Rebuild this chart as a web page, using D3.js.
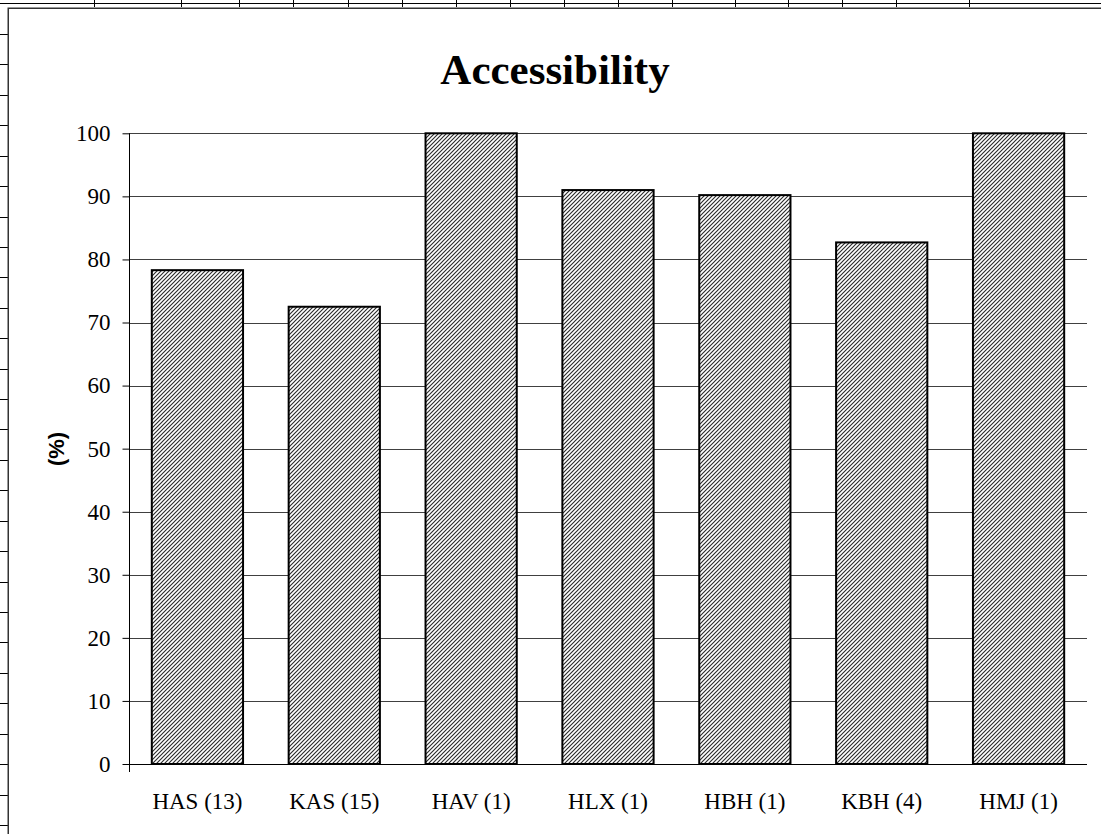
<!DOCTYPE html>
<html>
<head>
<meta charset="utf-8">
<script src="https://cdn.jsdelivr.net/npm/d3@7"></script>
<style>
  html, body { margin: 0; padding: 0; background: #fff; }
  svg { display: block; }
</style>
</head>
<body>
<script>
// ---- data ----
const categories = ["HAS (13)", "KAS (15)", "HAV (1)", "HLX (1)", "HBH (1)", "KBH (4)", "HMJ (1)"];
const values = [78.3, 72.5, 100, 91.0, 90.2, 82.7, 100];
const yTicks = [0, 10, 20, 30, 40, 50, 60, 70, 80, 90, 100];
const titleText = "Accessibility";
const yAxisTitle = "(%)";

// ---- layout ----
const W = 1101, H = 834;
const plot = { left: 129, right: 1087, top: 133.3, bottom: 764 };
const sheetCols = [94, 181, 239, 293, 348, 402, 456, 510, 564, 618, 672, 735, 788, 842, 896, 969];

const svg = d3.select("body").append("svg").attr("width", W).attr("height", H);
svg.append("rect").attr("width", W).attr("height", H).attr("fill", "#fff");

const defs = svg.append("defs");
const pat = defs.append("pattern").attr("id", "hatch")
  .attr("patternUnits", "userSpaceOnUse").attr("width", 4).attr("height", 4);
pat.append("rect").attr("width", 4).attr("height", 4).attr("fill", "#fff");
pat.append("path").attr("d", "M-1,1 L1,-1 M0,4 L4,0 M3,5 L5,3")
  .attr("stroke", "#2a2a2a").attr("stroke-width", 1.15);

// spreadsheet background lines
const sheet = svg.append("g");
sheet.append("line").attr("x1", 0).attr("x2", W).attr("y1", 3.5).attr("y2", 3.5)
  .attr("stroke", "#000").attr("stroke-width", 1);
sheet.selectAll("line.col").data(sheetCols).join("line").attr("class", "col")
  .attr("x1", d => d + 0.5).attr("x2", d => d + 0.5).attr("y1", 0).attr("y2", 7)
  .attr("stroke", "#000").attr("stroke-width", 1);
const rows = d3.range(27).map(i => 34 + i * 30.42);
sheet.selectAll("line.row").data(rows).join("line").attr("class", "row")
  .attr("x1", 0).attr("x2", 8).attr("y1", d => Math.round(d) + 0.5).attr("y2", d => Math.round(d) + 0.5)
  .attr("stroke", "#000").attr("stroke-width", 1);

// chart border
svg.append("rect").attr("x", 8.25).attr("y", 8.25).attr("width", W + 20).attr("height", H + 20)
  .attr("fill", "#fff").attr("stroke", "#333").attr("stroke-width", 1.5);

// scales
const x = d3.scaleBand().domain(categories).range([plot.left, plot.right])
  .paddingInner(1 / 3).paddingOuter(1 / 6);
const y = d3.scaleLinear().domain([0, 100]).range([plot.bottom, plot.top]);

// gridlines
svg.append("g").selectAll("line").data(yTicks.filter(d => d > 0)).join("line")
  .attr("x1", plot.left).attr("x2", plot.right)
  .attr("y1", d => Math.round(y(d)) + 0.5).attr("y2", d => Math.round(y(d)) + 0.5)
  .attr("stroke", "#404040").attr("stroke-width", 1);

// bars
svg.append("g").selectAll("rect").data(values).join("rect")
  .attr("x", (d, i) => x(categories[i]))
  .attr("width", x.bandwidth())
  .attr("y", d => y(d))
  .attr("height", d => y(0) - y(d))
  .attr("fill", "url(#hatch)")
  .attr("stroke", "#000").attr("stroke-width", 2);

// y axis
const yAxis = d3.axisLeft(y).tickValues(yTicks).tickSize(7).tickPadding(12);
const gy = svg.append("g").attr("transform", `translate(${plot.left + 0.5},0)`).call(yAxis);
gy.select(".domain").remove();
gy.selectAll(".tick line").attr("stroke", "#000");
gy.selectAll(".tick text").attr("font-family", "'Liberation Serif', 'Times New Roman', serif")
  .attr("font-size", 23).attr("fill", "#000");
svg.append("line").attr("x1", plot.left + 0.5).attr("x2", plot.left + 0.5)
  .attr("y1", plot.top).attr("y2", plot.bottom + 8).attr("stroke", "#000");

// x axis
const xAxis = d3.axisBottom(x).tickSize(0).tickPadding(0);
const gx = svg.append("g").attr("transform", `translate(0,${Math.round(y(0)) + 0.5})`).call(xAxis);
gx.select(".domain").attr("d", `M${plot.left},0H${plot.right}`).attr("stroke", "#000");
gx.selectAll(".tick text").attr("font-family", "'Liberation Serif', 'Times New Roman', serif")
  .attr("font-size", 23).attr("fill", "#000").attr("dy", null).attr("y", 44);

// title
svg.append("text").attr("x", 555).attr("y", 84).attr("text-anchor", "middle")
  .attr("font-family", "'Liberation Serif', 'Times New Roman', serif")
  .attr("font-weight", "bold").attr("font-size", 43).text(titleText);

// y axis title
svg.append("text").attr("transform", `translate(64,449) rotate(-90)`)
  .attr("text-anchor", "middle")
  .attr("font-family", "'Liberation Sans', Arial, sans-serif")
  .attr("font-weight", "bold").attr("font-size", 22).text(yAxisTitle);
</script>
</body>
</html>
